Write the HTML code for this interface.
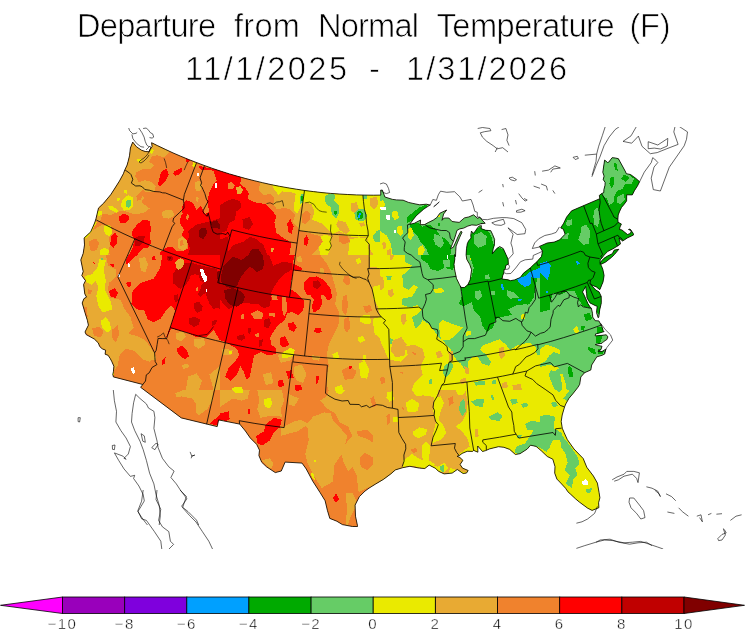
<!DOCTYPE html><html><head><meta charset="utf-8"><title>Departure from Normal Temperature (F)</title>
<style>html,body{margin:0;padding:0;background:#fff}svg{display:block}text{font-family:"Liberation Sans",sans-serif;fill:#000}</style></head><body>
<svg width="750" height="635" viewBox="0 0 750 635">
<rect width="750" height="635" fill="#fff"/>
<defs><clipPath id="frame"><rect x="0" y="127" width="750" height="422"/></clipPath><clipPath id="us"><path d="M132.7 142.1 L130.4 148.0 L129.5 155.8 L128.2 161.1 L127.1 165.1 L124.8 169.9 L123.4 173.7 L119.5 180.9 L114.4 189.0 L110.7 194.7 L103.8 203.0 L98.5 208.1 L95.9 219.0 L94.6 223.0 L90.7 231.9 L84.1 238.0 L84.5 244.9 L83.2 253.4 L80.8 259.9 L83.2 271.6 L81.8 275.6 L85.5 280.7 L83.6 284.5 L84.8 293.9 L86.5 297.1 L83.9 298.7 L82.2 303.0 L85.0 312.7 L87.4 320.4 L88.4 325.2 L85.0 332.0 L86.2 334.6 L94.4 339.1 L98.3 342.9 L99.7 346.5 L102.2 348.8 L105.6 350.2 L105.1 354.2 L108.1 355.3 L110.2 358.5 L111.7 361.3 L113.9 366.3 L113.4 371.7 L112.8 374.4 L113.4 376.9 L113.4 376.9 L142.8 384.5 L140.6 387.3 L181.3 417.9 L217.2 426.6 L218.6 419.9 L239.7 424.1 L245.4 431.0 L250.2 437.9 L256.7 444.4 L259.5 450.2 L258.9 455.5 L261.7 462.2 L266.5 466.8 L275.3 472.6 L281.3 471.0 L285.1 462.1 L294.0 462.6 L302.0 463.1 L306.2 468.9 L312.7 481.1 L320.1 492.6 L325.1 500.7 L327.4 510.4 L329.8 518.4 L336.8 521.2 L342.4 524.6 L352.4 526.5 L357.5 526.5 L357.5 525.8 L355.5 516.2 L355.1 505.1 L359.4 496.6 L365.0 491.1 L369.1 488.1 L375.3 484.2 L383.4 479.4 L390.8 473.9 L395.4 469.9 L402.6 467.7 L409.9 466.3 L419.4 468.1 L424.8 468.5 L429.2 465.1 L435.6 468.4 L438.5 471.3 L444.1 473.9 L452.2 473.1 L457.3 469.5 L463.1 473.5 L466.5 473.1 L468.2 470.5 L462.5 468.1 L460.1 464.5 L462.9 460.3 L459.9 457.5 L457.1 456.3 L459.7 455.3 L462.1 453.4 L467.2 451.3 L472.5 451.4 L473.7 450.4 L477.9 452.2 L477.7 446.0 L482.5 451.5 L485.7 450.6 L489.5 448.9 L498.5 446.7 L503.9 447.3 L509.7 449.4 L515.4 454.5 L520.0 453.7 L527.2 449.1 L530.5 445.2 L536.1 446.4 L541.2 450.7 L547.3 456.5 L552.8 459.2 L555.0 466.6 L554.7 473.1 L556.9 479.1 L560.7 483.0 L565.6 488.3 L567.9 491.8 L570.8 494.4 L575.6 498.9 L579.4 502.1 L587.7 508.2 L592.1 510.4 L598.9 507.7 L598.6 502.7 L599.9 497.8 L599.1 492.6 L597.4 483.1 L593.4 476.0 L586.8 467.3 L583.2 458.5 L578.9 454.1 L574.0 449.0 L567.3 439.6 L564.1 432.5 L562.3 428.3 L561.2 421.5 L562.2 415.0 L564.6 406.8 L565.8 403.9 L568.9 398.4 L573.3 393.2 L578.0 387.2 L579.7 384.3 L580.8 377.0 L584.6 372.7 L590.8 370.0 L591.7 365.0 L596.7 357.1 L596.7 356.9 L602.0 355.3 L604.7 354.0 L605.7 349.2 L602.0 351.5 L597.9 351.3 L600.9 349.7 L602.0 346.2 L598.8 345.7 L595.2 344.6 L597.7 343.9 L602.0 343.3 L604.1 341.2 L606.8 339.6 L607.9 336.9 L606.3 334.8 L602.0 335.3 L595.2 335.9 L595.6 333.9 L598.8 333.2 L604.1 331.6 L603.1 330.5 L602.0 326.8 L598.9 320.9 L595.2 320.7 L592.7 317.1 L592.5 313.3 L591.4 308.4 L589.9 306.7 L587.9 303.6 L584.2 295.2 L582.5 292.0 L585.7 286.4 L585.9 288.5 L586.6 293.6 L587.0 297.9 L590.0 302.9 L595.1 305.5 L597.2 306.3 L596.5 312.6 L598.2 317.8 L598.8 317.1 L599.7 309.9 L601.1 304.0 L601.3 302.7 L601.2 296.4 L599.1 291.9 L595.8 290.1 L592.8 286.8 L590.0 283.3 L591.6 285.0 L596.4 286.9 L599.8 289.7 L603.0 282.0 L604.1 275.5 L602.8 269.3 L601.4 265.8 L600.2 264.3 L600.1 259.9 L602.1 257.8 L603.9 255.3 L606.7 252.6 L607.9 251.3 L613.0 248.8 L615.2 247.4 L617.5 246.1 L620.5 243.9 L619.0 238.1 L622.6 241.0 L623.5 240.5 L627.4 237.9 L633.5 235.0 L633.2 233.3 L630.0 229.0 L628.5 229.5 L631.4 230.7 L630.4 233.4 L627.5 234.5 L624.8 232.3 L621.9 229.9 L619.5 229.5 L620.0 227.0 L621.4 224.0 L618.1 222.3 L617.9 219.3 L618.2 215.0 L619.7 211.2 L621.6 207.3 L624.0 204.5 L626.6 200.9 L626.7 194.8 L632.3 194.9 L634.4 190.7 L637.4 186.1 L639.6 181.7 L639.6 181.7 L635.9 178.4 L630.5 174.5 L626.3 173.7 L625.6 171.9 L618.4 158.7 L615.9 158.1 L612.1 157.7 L610.6 159.7 L608.8 162.1 L607.5 162.5 L604.6 160.1 L602.8 172.3 L604.1 176.1 L603.2 179.5 L605.1 182.3 L605.0 185.3 L603.9 189.5 L603.8 192.6 L601.8 193.5 L599.3 195.4 L599.8 198.7 L571.6 210.8 L566.6 217.1 L563.7 223.2 L560.7 227.9 L563.3 229.1 L565.1 234.2 L559.7 239.8 L554.2 242.1 L547.2 243.0 L539.4 246.4 L542.5 251.2 L541.5 256.5 L536.7 262.0 L533.8 264.5 L530.3 267.9 L523.6 273.1 L520.3 277.5 L514.5 279.9 L510.4 280.7 L508.0 279.8 L502.0 279.0 L502.8 275.3 L503.8 273.0 L504.1 269.7 L505.4 268.4 L505.7 265.5 L508.3 264.1 L508.1 259.3 L505.8 254.2 L503.2 248.5 L499.7 246.6 L496.7 248.6 L492.3 253.8 L493.2 248.7 L494.4 245.0 L494.6 239.4 L492.5 234.3 L490.7 230.6 L485.8 230.3 L481.1 228.6 L481.4 225.7 L479.0 226.1 L477.0 228.5 L475.0 231.7 L473.0 233.5 L471.5 231.0 L470.8 235.0 L471.0 238.1 L468.6 240.9 L467.3 243.7 L466.5 248.6 L466.1 255.0 L466.8 259.4 L469.7 264.4 L471.6 269.7 L470.2 279.7 L467.8 284.8 L464.3 287.6 L460.9 287.4 L459.4 284.4 L456.4 278.3 L454.5 268.9 L454.0 264.2 L454.8 259.2 L454.6 254.5 L455.5 256.6 L455.7 251.8 L456.1 246.1 L457.7 242.1 L459.7 237.3 L462.1 232.1 L460.9 231.3 L458.1 236.5 L455.7 242.1 L453.3 247.3 L450.5 248.6 L452.5 243.7 L454.1 239.7 L455.7 234.9 L456.9 230.5 L459.7 228.9 L463.7 228.1 L467.8 226.1 L471.8 224.9 L476.6 225.3 L479.8 224.1 L482.2 223.3 L481.5 223.7 L485.2 223.3 L482.2 220.1 L479.7 217.2 L477.6 218.4 L473.6 214.8 L468.9 216.9 L464.4 217.9 L459.2 222.4 L452.1 221.5 L448.8 218.0 L444.2 218.0 L442.0 220.3 L443.6 214.0 L446.7 210.0 L439.9 213.2 L436.8 217.6 L433.4 220.0 L428.2 222.6 L424.6 224.6 L420.2 224.7 L420.6 220.0 L414.5 223.2 L409.6 224.3 L412.9 220.0 L416.2 215.8 L423.8 209.1 L429.9 205.1 L430.2 205.1 L426.3 204.2 L419.7 204.8 L412.9 203.4 L408.5 202.4 L403.1 200.2 L396.5 199.9 L392.6 199.4 L384.9 197.0 L382.4 190.1 L380.7 190.1 L380.8 195.1 L373.5 195.2 L364.9 195.1 L356.3 194.9 L347.7 194.5 L339.1 194.0 L330.6 193.4 L322.0 192.6 L313.4 191.6 L304.9 190.5 L296.4 189.2 L287.9 187.8 L279.5 186.3 L271.0 184.6 L262.6 182.7 L254.3 180.7 L245.9 178.6 L237.7 176.3 L229.4 173.9 L221.2 171.3 L213.0 168.6 L204.9 165.7 L196.9 162.7 L188.9 159.6 L180.9 156.3 L173.0 152.9 L165.2 149.3 L157.4 145.6 L151.6 142.7 L151.6 142.7 L152.1 146.7 L149.9 149.2 L149.1 151.8 L145.2 151.5 L141.5 150.2 L136.4 146.7 L132.7 142.1Z"/><path d="M600.8 264.4 L605.6 262.1 L611.6 257.3 L614.4 254.6 L618.8 249.3 L614.2 250.1 L612.3 253.7 L607.6 256.0 L604.0 258.3 L601.9 260.6 L600.2 262.8Z"/></clipPath></defs>
<g clip-path="url(#us)" shape-rendering="crispEdges">
<rect x="50" y="110" width="700" height="470" fill="#e8aa33"/>
<svg x="60" y="120" width="160" height="135" viewBox="0 0 750 632.812" overflow="hidden"><rect width="750" height="632.812" fill="#f0822d"/>
<path d="M300 60 L520 125 L512 150 L490 175 L470 170 L455 165 L430 170 L418 195 L440 212 L420 232 L385 232 L358 245 L352 262 L370 292 L398 283 L430 290 L448 312 L442 335 L405 338 L388 328 L370 345 L395 365 L380 385 L400 400 L420 415 L400 432 L370 440 L340 440 L300 425 L270 430 L240 445 L200 440 L190 470 L150 480 L100 560 L0 560 L0 60Z" fill="#e8aa33"/>
<path d="M117 539 L156 515.6 L195 492 L234 492 L242 523 L230 555 L234 586 L227 617 L234 633 L100 633 L100 586Z" fill="#e8aa33"/>
<path d="M133 570 L168 555 L184 578 L172 609 L145 617Z" fill="#f0822d"/>
<path d="M425 180 L440 170 L455 182 L452 200 L435 205 L422 195Z" fill="#f0822d"/>
<path d="M358 355 L372 345 L385 358 L378 375 L362 378Z" fill="#f0822d"/>
<path d="M195 450 L215 445 L225 460 L210 470 L198 465Z" fill="#f0822d"/>
<path d="M475 435 L500 420 L530 425 L535 450 L510 462 L485 458Z" fill="#e8aa33"/>
<path d="M635 290 L655 285 L665 310 L660 330 L640 335 L630 315Z" fill="#e8aa33"/>
<path d="M640 360 L650 365 L648 385 L638 380Z" fill="#e8aa33"/>
<path d="M425 135 L440 140 L432 160 L420 150Z" fill="#eaea00"/>
<path d="M362 185 L385 180 L380 195 L365 200Z" fill="#eaea00"/>
<path d="M625 198 L640 203 L632 225 L620 215Z" fill="#eaea00"/>
<path d="M295 370 L320 352 L340 362 L345 400 L330 420 L300 425 L285 400Z" fill="#eaea00"/>
<path d="M308 385 L322 372 L335 380 L335 400 L322 412 L308 405Z" fill="#66cc66"/>
<path d="M300 330 L315 325 L312 345 L300 342Z" fill="#eaea00"/>
<path d="M270 365 L280 368 L278 380 L268 378Z" fill="#eaea00"/>
<path d="M225 405 L240 400 L275 425 L265 435 L235 420Z" fill="#eaea00"/>
<path d="M175 425 L200 430 L195 445 L178 450 L170 440Z" fill="#eaea00"/>
<path d="M160 475 L172 480 L150 520 L130 550 L110 560 L110 540 L140 500Z" fill="#eaea00"/>
<path d="M205 500 L225 490 L240 500 L245 530 L230 545 L210 535Z" fill="#eaea00"/>
<path d="M185 610 L210 598 L230 610 L225 633 L190 633Z" fill="#eaea00"/>
<path d="M478 238 L500 228 L510 255 L495 285 L470 310 L458 305 L465 280 L470 255Z" fill="#ff0000"/>
<path d="M535 240 L570 225 L575 235 L560 255 L540 262 L530 252Z" fill="#ff0000"/>
<path d="M592 180 L610 188 L600 200 L588 192Z" fill="#ff0000"/>
<path d="M275 455 L295 440 L320 445 L325 465 L305 485 L280 480Z" fill="#ff0000"/>
<path d="M240 545 L258 528 L270 545 L265 580 L250 600 L235 585Z" fill="#ff0000"/>
<path d="M590 375 L620 385 L640 420 L660 400 L680 440 L700 430 L690 380 L700 340 L720 300 L735 285 L750 290 L750 633 L468.8 633 L468.8 621 L500 597.6 L523.4 593.7 L546.9 613.3 L578.1 613.3 L601.6 601.6 L597.7 570.3 L570.3 539 L582 515.6 L562.5 484.4 L566.4 445.3 L575 440 L570 410Z" fill="#ff0000"/>
<path d="M339.9 519.5 L363.3 488.3 L390.6 467.2 L420.3 472.6 L426.6 507.8 L421.9 546.9 L426.6 578.1 L411 598.4 L390.6 601.6 L371.1 621.1 L363.3 632.8 L324.2 632.8 L339.9 601.6 L350 562.5 L338.3 539Z" fill="#ff0000"/>
<path d="M652 215 L680 222 L750 235 L750 295 L735 285 L720 240 L700 232 L670 235 L655 230Z" fill="#ff0000"/>
<path d="M550.8 562.5 L570.3 546.9 L593.8 562.5 L597.7 593.7 L578.1 613.3 L554.7 601.6Z" fill="#e8aa33"/>
<path d="M595 440 L605 450 L600 470 L590 462Z" fill="#f0822d"/>
<path d="M560 570 L575 560 L580 585 L565 590Z" fill="#f0822d"/>
<path d="M700 535 L720 540 L715 560 L700 555Z" fill="#f0822d"/>
<path d="M600 520 L640 490 L680 480 L720 470 L750 460 L750 633 L600 633 L610 600 L595 570 L605 545Z" fill="#c00000"/>
<path d="M351.6 554.7 L371.1 543 L398.4 545.3 L390.6 574.2 L371.1 593.7 L353.1 589.8Z" fill="#c00000"/>
<path d="M655 510 L685 505 L690 530 L670 560 L650 545Z" fill="#800000"/>
<path d="M705 480 L735 470 L750 490 L750 510 L715 505Z" fill="#800000"/>
<path d="M725 297 L735 295 L738 318 L728 320Z" fill="#ffffff"/>
<path d="M640 250 L652 248 L654 262 L643 264Z" fill="#ffffff"/>
</svg>
<svg x="220" y="120" width="160" height="135" viewBox="0 0 750 632.812" overflow="hidden"><rect width="750" height="632.812" fill="#e8aa33"/>
<path d="M240 290 L245 310 L258 330 L275 352 L292 335 L330 338 L355 345 L350 380 L345 420 L362 440 L380 400 L395 385 L430 395 L442 430 L432 468 L470 482 L500 505 L530 535 L560 520 L600 545 L640 548 L690 548 L700 600 L720 633 L750 633 L750 290Z" fill="#eaea00"/>
<path d="M468 548 L498 535 L522 550 L520 600 L505 633 L470 633 L462 590Z" fill="#eaea00"/>
<path d="M610 560 L650 550 L690 555 L700 633 L600 633 L605 590Z" fill="#eaea00"/>
<path d="M0 230 L190 295 L180 330 L205 355 L235 345 L255 365 L250 395 L268 420 L300 410 L330 420 L352 445 L342 480 L362 500 L375 520 L420 530 L470 545 L482 570 L460 600 L430 633 L0 633Z" fill="#f0822d"/>
<path d="M385 440 L405 425 L425 440 L420 470 L400 490 L385 480Z" fill="#f0822d"/>
<path d="M560 545 L600 545 L610 570 L580 585 L560 570Z" fill="#f0822d"/>
<path d="M705 365 L735 360 L742 395 L725 420 L705 405Z" fill="#e8aa33"/>
<path d="M615 390 L640 385 L650 415 L635 440 L615 425Z" fill="#e8aa33"/>
<path d="M650 482 L675 480 L680 495 L660 502Z" fill="#e8aa33"/>
<path d="M555 470 L590 480 L610 520 L590 535 L560 515 L545 490Z" fill="#e8aa33"/>
<path d="M440 475 L480 485 L500 510 L520 535 L480 540 L440 525 L420 500Z" fill="#e8aa33"/>
<path d="M530 560 L600 590 L600 633 L525 633Z" fill="#e8aa33"/>
<path d="M0 230 L100 268 L95 300 L120 320 L135 345 L130 370 L160 385 L215 395 L240 420 L265 450 L255 480 L265 530 L300 555 L335 575 L325 633 L0 633Z" fill="#ff0000"/>
<path d="M35 300 L55 290 L70 305 L60 325 L40 325Z" fill="#f0822d"/>
<path d="M75 315 L95 310 L108 325 L100 345 L80 345Z" fill="#e8aa33"/>
<path d="M240 600 L252 598 L250 620 L238 618Z" fill="#e8aa33"/>
<path d="M315 485 L330 465 L345 500 L335 535 L320 525Z" fill="#ff0000"/>
<path d="M392 560 L405 540 L415 560 L408 590 L395 585Z" fill="#ff0000"/>
<path d="M0 400 L30 380 L60 370 L95 380 L100 410 L75 430 L70 470 L45 480 L30 520 L0 530Z" fill="#c00000"/>
<path d="M105 465 L140 455 L155 490 L135 515 L110 505Z" fill="#c00000"/>
<path d="M39 617 L62.5 586 L109.4 570.3 L140.6 546.9 L171.9 558.6 L203.1 586 L218.8 625 L218.8 633 L31 633Z" fill="#c00000"/>
<path d="M0 560 L40 545 L35 633 L0 633Z" fill="#c00000"/>
<path d="M132.7 633 L148.6 605.6 L179.5 603.3 L199.2 633Z" fill="#800000"/>
<path d="M495 355 L515 345 L540 350 L535 380 L560 400 L560 430 L545 460 L525 445 L520 410 L500 395 L490 375Z" fill="#66cc66"/>
<path d="M535 425 L550 430 L545 445 L535 440Z" fill="#00aa00"/>
<path d="M630 435 L650 415 L675 420 L690 445 L680 470 L650 475 L632 460Z" fill="#66cc66"/>
<path d="M640 435 L655 425 L670 435 L668 460 L648 468Z" fill="#00aa00"/>
<path d="M650 438 L660 436 L656 462 L648 458Z" fill="#00a0ff"/>
<path d="M378 345 L392 345 L390 388 L376 392Z" fill="#66cc66"/>
<path d="M381 355 L389 355 L388 380 L380 382Z" fill="#00aa00"/>
<path d="M715 545 L735 520 L750 515 L750 570 L725 570Z" fill="#66cc66"/>
<path d="M670 350 L690 352 L688 372 L672 370Z" fill="#66cc66"/>
</svg>
<svg x="380" y="120" width="160" height="135" viewBox="0 0 750 632.812" overflow="hidden"><rect width="750" height="632.812" fill="#66cc66"/>
<path d="M128 455 L165 425 L185 410 L228 393 L208 420 L175 445 L150 472 L128 482Z" fill="#00aa00"/>
<path d="M138 490 L175 480 L200 500 L230 490 L260 510 L280 540 L310 560 L335 590 L330 633 L230 633 L215 600 L190 570 L175 540 L150 520Z" fill="#00aa00"/>
<path d="M255 535 L290 545 L300 580 L285 600 L260 585 L250 560Z" fill="#66cc66"/>
<path d="M410 560 L440 520 L470 500 L500 510 L520 540 L530 580 L560 600 L590 610 L600 633 L400 633Z" fill="#00aa00"/>
<path d="M440 540 L475 525 L500 545 L495 585 L460 600 L440 580Z" fill="#66cc66"/>
<path d="M270 485 L282 485 L282 497 L270 497Z" fill="#00aa00"/>
<path d="M0 380 L15 375 L25 400 L10 420 L0 420Z" fill="#eaea00"/>
<path d="M55 430 L80 425 L90 460 L70 470 L55 450Z" fill="#eaea00"/>
<path d="M80 500 L100 495 L110 530 L95 545 L80 530Z" fill="#eaea00"/>
<path d="M130 510 L150 505 L158 540 L145 565 L132 550Z" fill="#eaea00"/>
<path d="M0 520 L30 540 L50 580 L60 633 L0 633Z" fill="#eaea00"/>
<path d="M180 600 L200 585 L210 610 L200 633 L180 633Z" fill="#eaea00"/>
<path d="M270 447 L280 447 L280 457 L270 457Z" fill="#eaea00"/>
<path d="M10 575 L25 570 L30 600 L15 605Z" fill="#e8aa33"/>
<path d="M35 610 L50 605 L50 633 L35 633Z" fill="#e8aa33"/>
<path d="M0 410 L15 405 L28 410 L26 424 L5 424Z" fill="#ffffff"/>
<path d="M28 448 L45 445 L47 468 L32 471Z" fill="#ffffff"/>
<path d="M66 516 L75 516 L76 530 L67 530Z" fill="#ffffff"/>
</svg>
<svg x="540" y="120" width="160" height="135" viewBox="0 0 750 632.812" overflow="hidden"><rect width="750" height="632.812" fill="#00aa00"/>
<path d="M295 185 L350 172 L380 200 L410 250 L440 275 L430 300 L400 300 L385 325 L365 330 L350 350 L345 385 L325 400 L315 370 L292 352 L298 260Z" fill="#66cc66"/>
<path d="M362 360 L392 345 L398 372 L375 395 L360 385Z" fill="#66cc66"/>
<path d="M345 200 L358 205 L365 240 L352 232Z" fill="#00aa00"/>
<path d="M395 255 L420 270 L400 290 L380 275Z" fill="#00aa00"/>
<path d="M330 270 L345 268 L348 300 L335 320 L325 300Z" fill="#00aa00"/>
<path d="M255 420 L270 410 L282 460 L270 500 L255 490 L250 450Z" fill="#66cc66"/>
<path d="M128 470 L150 465 L150 490 L130 500 L120 490Z" fill="#66cc66"/>
<path d="M195 500 L215 490 L235 520 L230 580 L205 585 L180 560 L190 530Z" fill="#66cc66"/>
<path d="M105 540 L135 530 L130 560 L105 560Z" fill="#66cc66"/>
</svg>
<svg x="60" y="255" width="160" height="135" viewBox="0 0 750 632.812" overflow="hidden"><rect width="750" height="632.812" fill="#f0822d"/>
<path d="M95 0 L215 0 L225 50 L265 70 L260 105 L230 130 L225 160 L235 200 L285 210 L300 250 L330 290 L345 340 L320 370 L360 380 L400 400 L430 440 L442 480 L420 500 L390 490 L350 450 L310 440 L280 470 L270 520 L250 545 L230 500 L200 440 L165 400 L130 370 L60 330 L60 0Z" fill="#e8aa33"/>
<path d="M150 345 L185 335 L205 360 L190 385 L160 380Z" fill="#f0822d"/>
<path d="M245 350 L270 330 L278 370 L262 410 L245 390Z" fill="#f0822d"/>
<path d="M130 160 L150 165 L145 185 L130 180Z" fill="#f0822d"/>
<path d="M110 240 L125 245 L130 290 L115 285Z" fill="#f0822d"/>
<path d="M185 20 L215 25 L205 70 L215 120 L210 160 L225 190 L240 225 L245 255 L200 270 L180 240 L170 190 L180 150 L165 120 L150 140 L125 130 L115 100 L150 90 L175 60Z" fill="#eaea00"/>
<path d="M190 310 L215 290 L235 320 L240 350 L220 365 L200 345Z" fill="#eaea00"/>
<path d="M245 545 L255 550 L255 565 L245 560Z" fill="#eaea00"/>
<path d="M193 16 L201 16 L201 24 L193 24Z" fill="#66cc66"/>
<path d="M370 15 L400 10 L412 45 L400 80 L380 75Z" fill="#e8aa33"/>
<path d="M545 365 L580 360 L590 385 L570 405 L545 395Z" fill="#e8aa33"/>
<path d="M630 395 L675 390 L680 420 L650 440 L628 425Z" fill="#e8aa33"/>
<path d="M570 515 L600 510 L605 525 L580 535Z" fill="#e8aa33"/>
<path d="M600 570 L640 555 L665 590 L650 633 L590 633Z" fill="#e8aa33"/>
<path d="M700 560 L750 520 L750 633 L720 633Z" fill="#e8aa33"/>
<path d="M410 460 L445 455 L450 490 L420 495Z" fill="#e8aa33"/>
<path d="M480 0 L750 0 L750 400 L720 350 L690 382 L640 385 L600 365 L520 345 L505 380 L498 385 L520 330 L540 260 L520 235 L490 270 L470 300 L440 315 L410 300 L395 260 L360 255 L335 230 L340 170 L380 130 L440 110 L470 60Z" fill="#ff0000"/>
<path d="M230 170 L255 155 L272 175 L262 200 L238 198Z" fill="#ff0000"/>
<path d="M310 130 L330 125 L335 145 L318 150Z" fill="#ff0000"/>
<path d="M232 40 L255 45 L250 60Z" fill="#ff0000"/>
<path d="M155 33 L168 38 L160 45Z" fill="#ff0000"/>
<path d="M430 8 L445 5 L448 22 L432 25Z" fill="#ff0000"/>
<path d="M545 440 L570 425 L595 445 L605 475 L585 490 L555 465Z" fill="#ff0000"/>
<path d="M478 495 L495 480 L490 510 L478 518Z" fill="#ff0000"/>
<path d="M363.3 0 L351.6 7.8 L328.1 31.3 L312.5 46.9 L308.6 23.4 L320.3 0Z" fill="#ff0000"/>
<path d="M528.4 89.5 L550.3 58.2 L575.4 39.3 L613.1 36.2 L657 48.8 L732.3 64.4 L744.8 89.5 L738.6 127.2 L750 130 L750 177 L732.3 164.8 L719.7 139.7 L750 177.4 L750 252.7 L738.6 246.4 L719.7 252.7 L700.9 227.6 L688.4 196.2 L682.1 177.4 L657 196.2 L644.4 183.7 L657 164.8 L663.3 139.7 L675.8 127.2 L657 120.9 L650.7 95.8 L631.9 89.5 L613.1 95.8 L603.7 120.9 L588 139.7 L562.9 158.6 L531.5 133.5Z" fill="#c00000"/>
<path d="M719.7 139.7 L738.6 127.2 L750 130 L750 252.7 L738.6 246.4 L719.7 252.7 L700.9 227.6 L688.4 196.2 L682.1 177.4 L700 150Z" fill="#c00000"/>
<path d="M625.6 227.6 L650.7 218.2 L669.5 240.1 L663.3 262.1 L644.4 271.5 L628.8 252.7Z" fill="#c00000"/>
<path d="M603.7 296.6 L631.9 290.3 L657 302.9 L650.7 328 L625.6 337.4 L606.8 321.7Z" fill="#c00000"/>
<path d="M710.3 309.2 L738.6 302.9 L729.2 324.9 L713.5 331.1Z" fill="#c00000"/>
<path d="M534.6 190 L553.5 183.7 L556.6 215 L537.8 221.3Z" fill="#c00000"/>
<path d="M500 8 L522 1.7 L531.5 17.4 L519 30 L503.3 23.7Z" fill="#c00000"/>
<path d="M735 80 L750 75 L750 140 L740 130Z" fill="#800000"/>
<path d="M508 10 L520 8 L522 20 L510 22Z" fill="#800000"/>
<path d="M540.9 33 L562.9 14.2 L581.7 23.7 L578.6 51.9 L556.6 70.7 L542.8 58.2Z" fill="#e8aa33"/>
<path d="M637 155.4 L644.4 149.2 L647.6 168 L638.2 171.1Z" fill="#f0822d"/>
<path d="M657 67.6 L669.5 64.4 L679 86.4 L688.4 102.1 L691.5 120.9 L679 127.2 L669.5 111.5 L660.1 89.5Z" fill="#ffffff"/>
<path d="M685.2 161.7 L691.5 158.6 L689.6 172.4 L684 171.1Z" fill="#ffffff"/>
<path d="M333 530 L345 527 L352 550 L345 560 L336 548Z" fill="#ffffff"/>
<path d="M272 90 L280 90 L281 105 L273 104Z" fill="#ffffff"/>
<path d="M318 38 L325 37 L327 55 L320 56Z" fill="#ffffff"/>
</svg>
<svg x="220" y="255" width="160" height="135" viewBox="0 0 750 632.812" overflow="hidden"><rect width="750" height="632.812" fill="#e8aa33"/>
<path d="M0 0 L470 0 L500 40 L520 80 L535 130 L548 180 L540 230 L560 270 L555 330 L530 380 L510 420 L500 470 L510 520 L500 570 L505 633 L0 633Z" fill="#f0822d"/>
<path d="M580 100 L605 95 L612 130 L595 145 L578 125Z" fill="#f0822d"/>
<path d="M575 195 L595 185 L600 240 L590 285 L572 260Z" fill="#f0822d"/>
<path d="M670 240 L705 235 L712 262 L685 272Z" fill="#f0822d"/>
<path d="M580 300 L605 290 L610 340 L595 365 L580 340Z" fill="#f0822d"/>
<path d="M570 540 L610 520 L640 545 L625 580 L585 585Z" fill="#f0822d"/>
<path d="M360 10 L380 5 L385 30 L365 35Z" fill="#e8aa33"/>
<path d="M470 60 L490 65 L485 90 L468 85Z" fill="#e8aa33"/>
<path d="M350 520 L385 515 L405 560 L390 600 L360 590 L345 555Z" fill="#e8aa33"/>
<path d="M200 560 L240 550 L250 600 L215 610Z" fill="#e8aa33"/>
<path d="M270 470 L300 455 L345 470 L330 495 L285 505Z" fill="#e8aa33"/>
<path d="M10 440 L60 445 L50 470 L10 470Z" fill="#e8aa33"/>
<path d="M430 470 L470 475 L465 495 L435 492Z" fill="#e8aa33"/>
<path d="M700 0 L750 0 L750 60 L705 55Z" fill="#eaea00"/>
<path d="M715 150 L750 140 L750 280 L735 230 L715 200Z" fill="#eaea00"/>
<path d="M660 285 L700 280 L710 320 L680 325 L655 310Z" fill="#eaea00"/>
<path d="M715 300 L750 290 L750 390 L725 370Z" fill="#eaea00"/>
<path d="M645 385 L670 380 L680 400 L660 412 L645 400Z" fill="#eaea00"/>
<path d="M635 20 L655 15 L662 35 L645 42Z" fill="#eaea00"/>
<path d="M525 465 L550 455 L560 480 L535 490Z" fill="#eaea00"/>
<path d="M650 510 L680 495 L700 540 L690 580 L660 575Z" fill="#eaea00"/>
<path d="M540 620 L570 610 L580 633 L540 633Z" fill="#eaea00"/>
<path d="M670 470 L685 470 L680 500 L668 495Z" fill="#eaea00"/>
<path d="M290 460 L330 435 L350 445 L345 470 L310 485 L290 480Z" fill="#eaea00"/>
<path d="M40 450 L58 452 L55 465 L40 463Z" fill="#eaea00"/>
<path d="M55 622 L100 618 L110 633 L55 633Z" fill="#eaea00"/>
<path d="M0 0 L350 0 L340 40 L385 60 L380 75 L345 72 L335 120 L330 160 L358 178 L395 215 L390 260 L365 282 L335 265 L315 275 L300 310 L270 330 L250 360 L235 390 L240 420 L265 440 L260 465 L225 470 L190 455 L160 470 L150 520 L140 570 L125 585 L110 545 L95 520 L80 560 L50 590 L25 570 L40 530 L70 500 L90 470 L80 440 L30 410 L0 400Z" fill="#ff0000"/>
<path d="M395 130 L420 105 L455 100 L490 120 L520 160 L525 200 L505 215 L490 190 L470 185 L480 225 L465 255 L440 270 L430 240 L440 210 L425 190 L405 185 L395 160Z" fill="#ff0000"/>
<path d="M435 125 L460 118 L475 140 L455 160 L435 150Z" fill="#c00000"/>
<path d="M145 275 L175 258 L205 275 L195 300 L160 300Z" fill="#f0822d"/>
<path d="M240 190 L265 188 L270 210 L245 212Z" fill="#f0822d"/>
<path d="M165 370 L185 365 L185 385 L168 385Z" fill="#f0822d"/>
<path d="M100 280 L115 275 L112 300 L100 298Z" fill="#f0822d"/>
<path d="M230 270 L260 275 L255 290 L232 285Z" fill="#f0822d"/>
<path d="M290 200 L310 195 L315 260 L300 290 L290 250Z" fill="#f0822d"/>
<path d="M320 320 L345 315 L360 340 L345 360 L322 350Z" fill="#ff0000"/>
<path d="M445 345 L470 340 L478 360 L455 368 L442 358Z" fill="#ff0000"/>
<path d="M280 390 L305 380 L325 420 L300 435 L282 420Z" fill="#ff0000"/>
<path d="M310 545 L335 540 L345 575 L320 580Z" fill="#ff0000"/>
<path d="M270 590 L295 585 L300 615 L275 620Z" fill="#ff0000"/>
<path d="M350 612 L380 610 L385 633 L350 633Z" fill="#ff0000"/>
<path d="M450 570 L465 565 L460 600 L448 605Z" fill="#ff0000"/>
<path d="M605 522 L618 520 L615 535 L605 533Z" fill="#ff0000"/>
<path d="M0 0 L230 0 L250 50 L300 30 L340 40 L335 70 L300 90 L265 130 L240 175 L235 240 L205 250 L180 230 L110 225 L70 240 L40 255 L0 210Z" fill="#c00000"/>
<path d="M3.75 101.7 L15.5 54.8 L43.1 23.4 L62.3 8 L101.7 23.4 L132.7 0 L199.2 0 L207.2 38.9 L199.2 66.6 L172 82 L156.1 62.3 L136.9 54.8 L117.2 78.3 L93.8 109.2 L82 140.6 L62.3 160.3 L31.4 148.6 L8 132.7Z" fill="#800000"/>
<path d="M19.7 164 L62.3 156.1 L101.7 172 L117.2 195.5 L105.5 226.4 L78.3 242.3 L46.9 234.4 L23.4 203Z" fill="#800000"/>
<path d="M205 305 L230 295 L238 320 L225 345 L205 335Z" fill="#c00000"/>
<path d="M80 380 L110 372 L120 390 L100 402 L80 395Z" fill="#c00000"/>
<path d="M185 400 L200 395 L198 425 L185 430Z" fill="#c00000"/>
<path d="M130 345 L145 340 L142 370 L130 365Z" fill="#c00000"/>
</svg>
<svg x="380" y="255" width="160" height="135" viewBox="0 0 750 632.812" overflow="hidden"><rect width="750" height="632.812" fill="#eaea00"/>
<path d="M115 0 L750 0 L750 470 L735 470 L730 430 L700 410 L640 425 L610 445 L590 420 L560 395 L520 410 L480 425 L470 445 L500 470 L520 500 L510 520 L480 510 L455 475 L430 480 L410 500 L415 530 L395 535 L380 510 L360 495 L345 470 L330 440 L310 420 L295 400 L320 400 L345 385 L365 365 L388 340 L330 320 L295 305 L275 320 L280 360 L285 395 L270 380 L250 350 L230 325 L200 305 L185 330 L165 345 L150 290 L180 275 L195 255 L175 235 L140 245 L105 235 L105 205 L150 195 L178 150 L160 140 L135 165 L108 150 L105 95 L125 80 L150 50 L120 35Z" fill="#66cc66"/>
<path d="M250 160 L290 155 L305 170 L280 180 L255 175Z" fill="#eaea00"/>
<path d="M400 360 L425 355 L430 372 L405 380Z" fill="#eaea00"/>
<path d="M660 280 L680 275 L678 300 L662 302Z" fill="#eaea00"/>
<path d="M420 10 L440 5 L440 25 L425 25Z" fill="#eaea00"/>
<path d="M30 100 L55 100 L50 118 L32 118Z" fill="#66cc66"/>
<path d="M45 390 L60 395 L55 420 L45 415Z" fill="#66cc66"/>
<path d="M230 585 L245 580 L245 605 L232 605Z" fill="#66cc66"/>
<path d="M300 520 L330 500 L345 520 L325 560 L305 575 L295 550Z" fill="#66cc66"/>
<path d="M440 595 L490 590 L490 610 L450 612Z" fill="#66cc66"/>
<path d="M525 590 L545 585 L545 605 L528 605Z" fill="#66cc66"/>
<path d="M190 0 L350 0 L360 30 L340 70 L300 60 L270 75 L235 65 L225 40 L195 20Z" fill="#00aa00"/>
<path d="M295 25 L325 20 L330 55 L300 60Z" fill="#66cc66"/>
<path d="M380 150 L400 130 L430 100 L440 60 L420 0 L750 0 L750 60 L735 120 L720 200 L700 230 L650 245 L620 280 L575 290 L540 300 L530 340 L500 360 L480 330 L470 290 L440 260 L430 220 L390 240 L370 230 L385 190Z" fill="#00aa00"/>
<path d="M445 170 L470 165 L480 195 L460 215 L445 200Z" fill="#66cc66"/>
<path d="M595 165 L625 175 L650 200 L610 205 L595 190Z" fill="#66cc66"/>
<path d="M600 255 L640 235 L690 230 L660 270 L620 280Z" fill="#66cc66"/>
<path d="M520 170 L540 170 L540 185 L522 188Z" fill="#66cc66"/>
<path d="M490 95 L510 90 L515 110 L495 115Z" fill="#66cc66"/>
<path d="M640 110 L680 100 L700 80 L750 60 L750 110 L710 105 L705 140 L680 150 L655 135Z" fill="#00a0ff"/>
<path d="M568 135 L578 135 L580 165 L570 160Z" fill="#00a0ff"/>
<path d="M645 208 L665 205 L665 213 L645 216Z" fill="#00a0ff"/>
<path d="M0 400 L40 490 L100 500 L130 470 L120 430 L160 420 L200 440 L210 480 L190 520 L200 560 L160 600 L150 633 L0 633Z" fill="#e8aa33"/>
<path d="M60 400 L100 385 L125 420 L115 470 L75 480 L50 450Z" fill="#e8aa33"/>
<path d="M260 455 L285 450 L295 475 L270 485Z" fill="#e8aa33"/>
<path d="M100 280 L120 275 L125 310 L108 330 L98 310Z" fill="#e8aa33"/>
<path d="M40 165 L60 160 L65 185 L50 200 L38 185Z" fill="#e8aa33"/>
<path d="M0 100 L15 105 L20 150 L5 165 L0 160Z" fill="#e8aa33"/>
<path d="M45 0 L65 0 L62 20 L48 22Z" fill="#e8aa33"/>
<path d="M560 435 L580 430 L585 470 L570 490 L558 470Z" fill="#e8aa33"/>
<path d="M320 455 L340 450 L342 495 L325 498Z" fill="#e8aa33"/>
<path d="M395 520 L415 530 L415 560 L400 555Z" fill="#e8aa33"/>
<path d="M375 585 L400 575 L410 600 L380 605Z" fill="#e8aa33"/>
<path d="M570 600 L595 595 L600 620 L575 625Z" fill="#e8aa33"/>
<path d="M620 610 L660 605 L665 633 L625 633Z" fill="#e8aa33"/>
<path d="M0 575 L20 570 L25 600 L5 605Z" fill="#f0822d"/>
<path d="M150 455 L170 460 L165 475Z" fill="#f0822d"/>
<path d="M95 550 L110 548 L108 560Z" fill="#f0822d"/>
<path d="M313 0 L320 0 L319 18 L314 16Z" fill="#ffffff"/>
</svg>
<svg x="540" y="255" width="160" height="135" viewBox="0 0 750 632.812" overflow="hidden"><rect width="750" height="632.812" fill="#66cc66"/>
<path d="M0 0 L350 0 L300 130 L292 290 L240 250 L200 240 L180 205 L162 168 L130 168 L100 185 L60 180 L50 215 L45 258 L0 268Z" fill="#00aa00"/>
<path d="M0 40 L30 30 L50 50 L45 90 L35 120 L15 95 L0 85Z" fill="#00a0ff"/>
<path d="M170 25 L190 40 L172 48Z" fill="#00a0ff"/>
<path d="M28 170 L38 170 L38 180 L28 180Z" fill="#00a0ff"/>
<path d="M205 280 L230 270 L245 300 L215 310Z" fill="#00aa00"/>
<path d="M195 330 L212 335 L205 355 L192 350Z" fill="#00aa00"/>
<path d="M265 340 L290 335 L300 360 L280 420 L260 410 L265 380Z" fill="#00aa00"/>
<path d="M225 430 L255 440 L265 465 L240 460 L228 448Z" fill="#00aa00"/>
<path d="M135 520 L150 530 L155 570 L140 575 L130 545Z" fill="#00aa00"/>
<path d="M270 440 L300 445 L295 465 L272 462Z" fill="#00aa00"/>
<path d="M155 350 L172 330 L185 360 L165 368Z" fill="#eaea00"/>
<path d="M0 440 L30 420 L60 430 L95 445 L95 465 L65 455 L45 470 L25 500 L0 510Z" fill="#eaea00"/>
<path d="M0 525 L40 515 L70 520 L90 530 L70 545 L50 540 L40 560 L55 600 L70 633 L0 633Z" fill="#eaea00"/>
<path d="M95 560 L105 555 L120 600 L125 633 L105 633 L100 590Z" fill="#eaea00"/>
</svg>
<svg x="60" y="390" width="160" height="135" viewBox="0 0 750 632.812" overflow="hidden"><rect width="750" height="632.812" fill="#f0822d"/>
<path d="M540 15 L580 0 L720 0 L715 50 L690 90 L650 120 L635 105 L640 70 L620 40 L570 30 L545 35Z" fill="#e8aa33"/>
<path d="M700 160 L750 115 L750 165Z" fill="#ff0000"/>
</svg>
<svg x="220" y="390" width="160" height="145" viewBox="0 0 750 679.688" overflow="hidden"><rect width="750" height="679.688" fill="#f0822d"/>
<path d="M175 0 L290 0 L300 50 L285 90 L290 125 L240 120 L190 130 L175 90 L185 50Z" fill="#e8aa33"/>
<path d="M0 0 L140 0 L130 40 L100 50 L60 40 L30 60 L0 80Z" fill="#e8aa33"/>
<path d="M325 20 L370 40 L350 75 L325 70Z" fill="#e8aa33"/>
<path d="M285 180 L340 150 L380 140 L415 160 L435 125 L490 105 L520 110 L540 180 L530 260 L490 285 L440 265 L420 240 L430 200 L400 170 L360 195 L320 205 L285 215Z" fill="#e8aa33"/>
<path d="M472 205 L482 200 L488 225 L476 230Z" fill="#f0822d"/>
<path d="M408.3 157.2 L446.1 119.4 L514.1 127 L559.5 172.4 L597.3 217.7 L574.6 293.3 L535 353.8 L530 429.4 L476.3 459.6 L438.5 399.2 L410 340 L400 300 L415.8 232.8Z" fill="#e8aa33"/>
<path d="M470 50 L500 30 L510 0 L750 0 L750 440 L700 455 L650 480 L640 400 L620 360 L600 380 L580 340 L565 290 L590 250 L620 215 L600 170 L560 150 L540 110 L500 85Z" fill="#e8aa33"/>
<path d="M655 320 L680 295 L715 315 L715 350 L690 375 L660 360Z" fill="#f0822d"/>
<path d="M640 195 L690 185 L720 215 L715 245 L690 230 L650 215Z" fill="#f0822d"/>
<path d="M705 40 L720 30 L735 75 L715 80Z" fill="#f0822d"/>
<path d="M195 330 L235 320 L250 345 L240 370 L215 350Z" fill="#e8aa33"/>
<path d="M590 485 L620 480 L640 520 L630 560 L610 600 L600 633 L590 633 L595 560Z" fill="#e8aa33"/>
<path d="M205 45 L235 35 L245 60 L235 85 L210 80Z" fill="#eaea00"/>
<path d="M540 0 L590 0 L570 20 L545 15Z" fill="#eaea00"/>
<path d="M425 385 L440 395 L445 425 L430 410Z" fill="#eaea00"/>
<path d="M440 328 L452 328 L452 338 L440 338Z" fill="#eaea00"/>
<path d="M60 0 L110 0 L105 15 L70 12Z" fill="#eaea00"/>
<path d="M0 110 L40 100 L45 135 L30 145 L0 140Z" fill="#ff0000"/>
<path d="M170 215 L205 195 L215 160 L255 130 L290 140 L280 175 L250 200 L235 235 L200 260 L175 250Z" fill="#ff0000"/>
<path d="M130 90 L142 88 L138 115 L130 112Z" fill="#ff0000"/>
<path d="M530 505 L545 485 L560 515 L540 528Z" fill="#ff0000"/>
<path d="M355 0 L375 0 L365 8Z" fill="#ff0000"/>
</svg>
<svg x="380" y="390" width="160" height="135" viewBox="0 0 750 632.812" overflow="hidden"><rect width="750" height="632.812" fill="#eaea00"/>
<path d="M0 0 L400 0 L412 60 L405 110 L385 150 L355 170 L385 195 L412 230 L420 265 L385 290 L370 300 L410 375 L405 388 L360 375 L330 365 L320 390 L0 440Z" fill="#e8aa33"/>
<path d="M35 10 L60 5 L65 45 L45 55 L30 35Z" fill="#eaea00"/>
<path d="M120 60 L150 40 L185 65 L175 100 L130 105Z" fill="#eaea00"/>
<path d="M150 0 L275 0 L262 40 L240 30 L200 25 L170 30Z" fill="#eaea00"/>
<path d="M155 195 L185 175 L220 185 L215 210 L180 225 L158 215Z" fill="#eaea00"/>
<path d="M195 260 L215 240 L235 260 L230 330 L260 350 L240 365 L205 340 L195 300Z" fill="#eaea00"/>
<path d="M255 40 L285 30 L300 60 L285 100 L275 140 L300 170 L310 200 L290 230 L245 250 L250 200 L262 150 L250 100Z" fill="#eaea00"/>
<path d="M110 330 L150 300 L180 320 L230 345 L270 360 L300 340 L320 365 L300 385 L260 380 L200 365 L150 355 L110 360Z" fill="#eaea00"/>
<path d="M60 125 L85 128 L85 150 L62 150Z" fill="#eaea00"/>
<path d="M355 0 L400 0 L395 20 L365 25Z" fill="#eaea00"/>
<path d="M30 120 L45 110 L48 150 L35 165Z" fill="#f0822d"/>
<path d="M320 40 L340 30 L345 60 L325 75Z" fill="#f0822d"/>
<path d="M145 280 L170 270 L175 290 L155 295Z" fill="#f0822d"/>
<path d="M100 80 L115 85 L108 95Z" fill="#f0822d"/>
<path d="M445 185 L460 180 L462 215 L448 225Z" fill="#e8aa33"/>
<path d="M375 60 L395 40 L402 100 L385 125 L370 95Z" fill="#66cc66"/>
<path d="M425 55 L460 40 L490 45 L480 80 L450 75Z" fill="#66cc66"/>
<path d="M510 125 L550 105 L575 120 L560 145 L520 140Z" fill="#66cc66"/>
<path d="M610 45 L640 40 L645 60 L620 70Z" fill="#66cc66"/>
<path d="M660 65 L690 60 L695 75 L670 85Z" fill="#66cc66"/>
<path d="M520 25 L530 20 L535 45 L525 45Z" fill="#66cc66"/>
<path d="M280 360 L300 350 L300 385 L285 380Z" fill="#66cc66"/>
<path d="M680 160 L710 145 L750 150 L750 270 L720 265 L690 290 L650 305 L630 290 L640 265 L680 250 L700 220 L720 190 L690 185Z" fill="#66cc66"/>
<path d="M640 215 L665 210 L660 225 L645 228Z" fill="#66cc66"/>
</svg>
<svg x="540" y="390" width="160" height="135" viewBox="0 0 750 632.812" overflow="hidden"><rect width="750" height="632.812" fill="#eaea00"/>
<path d="M0 125 L30 115 L70 125 L65 180 L100 200 L105 215 L140 260 L175 310 L185 345 L165 365 L175 400 L155 420 L150 460 L120 440 L140 400 L115 375 L130 340 L120 300 L100 270 L95 235 L60 235 L45 270 L30 290 L0 270Z" fill="#66cc66"/>
<path d="M50 60 L75 55 L85 75 L60 80Z" fill="#66cc66"/>
<path d="M215 465 L245 460 L235 480 L220 485Z" fill="#66cc66"/>
<path d="M140 0 L170 0 L150 30 L125 50 L110 40Z" fill="#66cc66"/>
<path d="M75 0 L100 0 L90 12Z" fill="#66cc66"/>
<path d="M195 430 L215 418 L228 430 L222 448 L200 445Z" fill="#ffffff"/>
</svg>
</g>
<g fill="none" stroke="#000" stroke-width="0.8" stroke-linejoin="round">
<path d="M132.7 142.1 L130.4 148.0 L129.5 155.8 L128.2 161.1 L127.1 165.1 L124.8 169.9 L123.4 173.7 L119.5 180.9 L114.4 189.0 L110.7 194.7 L103.8 203.0 L98.5 208.1 L95.9 219.0 L94.6 223.0 L90.7 231.9 L84.1 238.0 L84.5 244.9 L83.2 253.4 L80.8 259.9 L83.2 271.6 L81.8 275.6 L85.5 280.7 L83.6 284.5 L84.8 293.9 L86.5 297.1 L83.9 298.7 L82.2 303.0 L85.0 312.7 L87.4 320.4 L88.4 325.2 L85.0 332.0 L86.2 334.6 L94.4 339.1 L98.3 342.9 L99.7 346.5 L102.2 348.8 L105.6 350.2 L105.1 354.2 L108.1 355.3 L110.2 358.5 L111.7 361.3 L113.9 366.3 L113.4 371.7 L112.8 374.4 L113.4 376.9 L113.4 376.9 L142.8 384.5 L140.6 387.3 L181.3 417.9 L217.2 426.6 L218.6 419.9 L239.7 424.1 L245.4 431.0 L250.2 437.9 L256.7 444.4 L259.5 450.2 L258.9 455.5 L261.7 462.2 L266.5 466.8 L275.3 472.6 L281.3 471.0 L285.1 462.1 L294.0 462.6 L302.0 463.1 L306.2 468.9 L312.7 481.1 L320.1 492.6 L325.1 500.7 L327.4 510.4 L329.8 518.4 L336.8 521.2 L342.4 524.6 L352.4 526.5 L357.5 526.5 L357.5 525.8 L355.5 516.2 L355.1 505.1 L359.4 496.6 L365.0 491.1 L369.1 488.1 L375.3 484.2 L383.4 479.4 L390.8 473.9 L395.4 469.9 L402.6 467.7 L409.9 466.3 L419.4 468.1 L424.8 468.5 L429.2 465.1 L435.6 468.4 L438.5 471.3 L444.1 473.9 L452.2 473.1 L457.3 469.5 L463.1 473.5 L466.5 473.1 L468.2 470.5 L462.5 468.1 L460.1 464.5 L462.9 460.3 L459.9 457.5 L457.1 456.3 L459.7 455.3 L462.1 453.4 L467.2 451.3 L472.5 451.4 L473.7 450.4 L477.9 452.2 L477.7 446.0 L482.5 451.5 L485.7 450.6 L489.5 448.9 L498.5 446.7 L503.9 447.3 L509.7 449.4 L515.4 454.5 L520.0 453.7 L527.2 449.1 L530.5 445.2 L536.1 446.4 L541.2 450.7 L547.3 456.5 L552.8 459.2 L555.0 466.6 L554.7 473.1 L556.9 479.1 L560.7 483.0 L565.6 488.3 L567.9 491.8 L570.8 494.4 L575.6 498.9 L579.4 502.1 L587.7 508.2 L592.1 510.4 L598.9 507.7 L598.6 502.7 L599.9 497.8 L599.1 492.6 L597.4 483.1 L593.4 476.0 L586.8 467.3 L583.2 458.5 L578.9 454.1 L574.0 449.0 L567.3 439.6 L564.1 432.5 L562.3 428.3 L561.2 421.5 L562.2 415.0 L564.6 406.8 L565.8 403.9 L568.9 398.4 L573.3 393.2 L578.0 387.2 L579.7 384.3 L580.8 377.0 L584.6 372.7 L590.8 370.0 L591.7 365.0 L596.7 357.1 L596.7 356.9 L602.0 355.3 L604.7 354.0 L605.7 349.2 L602.0 351.5 L597.9 351.3 L600.9 349.7 L602.0 346.2 L598.8 345.7 L595.2 344.6 L597.7 343.9 L602.0 343.3 L604.1 341.2 L606.8 339.6 L607.9 336.9 L606.3 334.8 L602.0 335.3 L595.2 335.9 L595.6 333.9 L598.8 333.2 L604.1 331.6 L603.1 330.5 L602.0 326.8 L598.9 320.9 L595.2 320.7 L592.7 317.1 L592.5 313.3 L591.4 308.4 L589.9 306.7 L587.9 303.6 L584.2 295.2 L582.5 292.0 L585.7 286.4 L585.9 288.5 L586.6 293.6 L587.0 297.9 L590.0 302.9 L595.1 305.5 L597.2 306.3 L596.5 312.6 L598.2 317.8 L598.8 317.1 L599.7 309.9 L601.1 304.0 L601.3 302.7 L601.2 296.4 L599.1 291.9 L595.8 290.1 L592.8 286.8 L590.0 283.3 L591.6 285.0 L596.4 286.9 L599.8 289.7 L603.0 282.0 L604.1 275.5 L602.8 269.3 L601.4 265.8 L600.2 264.3 L600.1 259.9 L602.1 257.8 L603.9 255.3 L606.7 252.6 L607.9 251.3 L613.0 248.8 L615.2 247.4 L617.5 246.1 L620.5 243.9 L619.0 238.1 L622.6 241.0 L623.5 240.5 L627.4 237.9 L633.5 235.0 L633.2 233.3 L630.0 229.0 L628.5 229.5 L631.4 230.7 L630.4 233.4 L627.5 234.5 L624.8 232.3 L621.9 229.9 L619.5 229.5 L620.0 227.0 L621.4 224.0 L618.1 222.3 L617.9 219.3 L618.2 215.0 L619.7 211.2 L621.6 207.3 L624.0 204.5 L626.6 200.9 L626.7 194.8 L632.3 194.9 L634.4 190.7 L637.4 186.1 L639.6 181.7 L639.6 181.7 L635.9 178.4 L630.5 174.5 L626.3 173.7 L625.6 171.9 L618.4 158.7 L615.9 158.1 L612.1 157.7 L610.6 159.7 L608.8 162.1 L607.5 162.5 L604.6 160.1 L602.8 172.3 L604.1 176.1 L603.2 179.5 L605.1 182.3 L605.0 185.3 L603.9 189.5 L603.8 192.6 L601.8 193.5 L599.3 195.4 L599.8 198.7 L571.6 210.8 L566.6 217.1 L563.7 223.2 L560.7 227.9 L563.3 229.1 L565.1 234.2 L559.7 239.8 L554.2 242.1 L547.2 243.0 L539.4 246.4 L542.5 251.2 L541.5 256.5 L536.7 262.0 L533.8 264.5 L530.3 267.9 L523.6 273.1 L520.3 277.5 L514.5 279.9 L510.4 280.7 L508.0 279.8 L502.0 279.0 L502.8 275.3 L503.8 273.0 L504.1 269.7 L505.4 268.4 L505.7 265.5 L508.3 264.1 L508.1 259.3 L505.8 254.2 L503.2 248.5 L499.7 246.6 L496.7 248.6 L492.3 253.8 L493.2 248.7 L494.4 245.0 L494.6 239.4 L492.5 234.3 L490.7 230.6 L485.8 230.3 L481.1 228.6 L481.4 225.7 L479.0 226.1 L477.0 228.5 L475.0 231.7 L473.0 233.5 L471.5 231.0 L470.8 235.0 L471.0 238.1 L468.6 240.9 L467.3 243.7 L466.5 248.6 L466.1 255.0 L466.8 259.4 L469.7 264.4 L471.6 269.7 L470.2 279.7 L467.8 284.8 L464.3 287.6 L460.9 287.4 L459.4 284.4 L456.4 278.3 L454.5 268.9 L454.0 264.2 L454.8 259.2 L454.6 254.5 L455.5 256.6 L455.7 251.8 L456.1 246.1 L457.7 242.1 L459.7 237.3 L462.1 232.1 L460.9 231.3 L458.1 236.5 L455.7 242.1 L453.3 247.3 L450.5 248.6 L452.5 243.7 L454.1 239.7 L455.7 234.9 L456.9 230.5 L459.7 228.9 L463.7 228.1 L467.8 226.1 L471.8 224.9 L476.6 225.3 L479.8 224.1 L482.2 223.3 L481.5 223.7 L485.2 223.3 L482.2 220.1 L479.7 217.2 L477.6 218.4 L473.6 214.8 L468.9 216.9 L464.4 217.9 L459.2 222.4 L452.1 221.5 L448.8 218.0 L444.2 218.0 L442.0 220.3 L443.6 214.0 L446.7 210.0 L439.9 213.2 L436.8 217.6 L433.4 220.0 L428.2 222.6 L424.6 224.6 L420.2 224.7 L420.6 220.0 L414.5 223.2 L409.6 224.3 L412.9 220.0 L416.2 215.8 L423.8 209.1 L429.9 205.1 L430.2 205.1 L426.3 204.2 L419.7 204.8 L412.9 203.4 L408.5 202.4 L403.1 200.2 L396.5 199.9 L392.6 199.4 L384.9 197.0 L382.4 190.1 L380.7 190.1 L380.8 195.1 L373.5 195.2 L364.9 195.1 L356.3 194.9 L347.7 194.5 L339.1 194.0 L330.6 193.4 L322.0 192.6 L313.4 191.6 L304.9 190.5 L296.4 189.2 L287.9 187.8 L279.5 186.3 L271.0 184.6 L262.6 182.7 L254.3 180.7 L245.9 178.6 L237.7 176.3 L229.4 173.9 L221.2 171.3 L213.0 168.6 L204.9 165.7 L196.9 162.7 L188.9 159.6 L180.9 156.3 L173.0 152.9 L165.2 149.3 L157.4 145.6 L151.6 142.7 L151.6 142.7 L152.1 146.7 L149.9 149.2 L149.1 151.8 L145.2 151.5 L141.5 150.2 L136.4 146.7 L132.7 142.1Z"/>
<path d="M600.8 264.4 L605.6 262.1 L611.6 257.3 L614.4 254.6 L618.8 249.3 L614.2 250.1 L612.3 253.7 L607.6 256.0 L604.0 258.3 L601.9 260.6 L600.2 262.8Z"/>
<path d="M125.1 170.0 L129.7 173.2 L131.0 174.6 L132.8 179.3 L131.4 183.1 L135.7 186.0 L140.0 185.8 L142.5 187.0 L144.9 189.6 L149.3 190.2 L153.8 191.5 L159.8 191.9 L162.5 192.8 L165.6 193.0 L183.4 200.1"/>
<path d="M196.6 162.6 L184.3 194.5 L183.4 200.1"/>
<path d="M183.4 200.1 L183.9 203.2 L184.0 208.2 L179.2 212.9 L173.7 218.0 L172.9 221.3 L174.7 223.4 L172.1 226.8 L163.0 250.4"/>
<path d="M96.2 219.9 L105.4 224.7 L114.6 229.4 L124.0 233.9 L133.4 238.2 L142.9 242.3 L152.5 246.3 L162.1 250.1 L171.8 253.7 L181.6 257.2 L191.4 260.5 L201.3 263.6 L211.3 266.5 L221.2 269.3"/>
<path d="M134.9 238.8 L117.9 277.1 L154.6 352.9"/>
<path d="M154.6 352.9 L156.2 350.3 L157.1 344.5 L158.1 338.4 L162.2 338.6 L166.6 338.6 L170.2 327.5"/>
<path d="M170.2 327.5 L191.9 260.6"/>
<path d="M154.6 352.9 L154.9 357.6 L155.2 361.6 L157.0 364.5 L152.0 367.5 L149.2 372.8 L146.3 374.9 L145.5 381.0 L142.8 384.5"/>
<path d="M170.2 327.5 L181.4 331.0 L192.6 334.4 L203.9 337.5 L215.3 340.4 L226.7 343.1 L238.2 345.6 L249.6 347.9 L261.2 350.0 L272.7 351.9 L284.3 353.5 L296.0 355.0 L307.6 356.3 L319.3 357.3 L331.0 358.2 L342.7 358.8 L354.4 359.3 L366.1 359.5 L377.9 359.5 L389.6 359.3"/>
<path d="M238.0 287.7 L206.6 424.2"/>
<path d="M238.0 287.7 L217.7 282.7 L221.2 269.3"/>
<path d="M221.2 269.3 L231.8 229.8"/>
<path d="M204.5 165.6 L200.0 177.9 L201.6 182.7 L200.5 185.8 L202.0 187.1 L203.0 189.5 L204.9 193.7 L206.4 199.1 L208.0 201.7 L205.6 205.9 L202.8 211.3 L204.4 214.0 L207.2 216.3 L208.2 213.1 L210.2 220.7 L211.3 226.7 L213.2 232.2 L217.1 234.1 L222.8 233.6 L226.1 234.6 L227.7 232.2 L230.1 236.3"/>
<path d="M231.8 229.8 L241.0 232.2 L250.3 234.4 L259.6 236.5 L268.9 238.4 L278.3 240.1 L287.7 241.7 L297.1 243.1"/>
<path d="M304.5 190.4 L289.5 297.3"/>
<path d="M238.0 287.7 L248.3 290.0 L258.5 292.1 L268.8 294.0 L279.2 295.7 L289.5 297.3 L299.9 298.6 L310.4 299.8"/>
<path d="M310.4 299.8 L304.6 356.0"/>
<path d="M308.9 313.7 L320.9 314.8 L333.0 315.7 L345.0 316.4 L357.1 316.8 L369.1 317.0 L381.2 316.9"/>
<path d="M293.7 354.7 L292.8 361.9"/>
<path d="M292.3 361.8 L284.1 427.6 L284.1 427.6 L269.1 425.6 L254.1 423.3 L239.2 420.7 L239.7 424.1"/>
<path d="M292.8 361.9 L304.3 363.2 L315.9 364.3 L327.4 365.2 L325.5 393.3 L329.0 395.9 L334.9 399.2 L342.1 401.0 L348.2 400.5 L349.9 404.3 L359.1 404.5 L361.5 406.8 L366.5 405.4 L369.5 407.6 L376.3 404.6 L382.4 405.3 L387.4 407.5 L392.4 408.2"/>
<path d="M389.8 366.5 L392.4 382.5 L392.4 408.2"/>
<path d="M389.8 366.5 L388.8 329.4 L385.7 325.3 L383.4 323.2 L385.6 320.4 L381.2 316.9 L378.5 313.5 L376.1 308.9 L375.0 303.0 L374.4 299.6 L373.7 296.1 L372.1 289.2 L369.1 282.5 L367.6 278.2 L369.1 274.1 L367.7 268.6 L369.2 268.6 L369.3 244.3 L365.6 240.2 L368.3 235.7 L368.0 230.9 L366.5 223.3 L365.9 214.9 L364.4 209.2 L363.5 201.7 L362.9 195.1"/>
<path d="M293.4 270.0 L304.4 271.4 L315.4 272.6 L326.5 273.6 L337.5 274.4 L348.6 275.0 L353.6 277.2 L359.6 277.1 L363.6 278.8 L366.1 279.5 L369.1 282.5"/>
<path d="M298.9 230.6 L308.7 231.9 L318.6 233.0 L328.6 233.9 L338.5 234.6 L348.4 235.2 L358.4 235.5 L368.3 235.7"/>
<path d="M369.2 268.6 L379.5 268.6 L389.8 268.4 L400.2 268.0 L410.5 267.4 L420.8 266.6"/>
<path d="M376.1 308.9 L386.8 308.7 L397.5 308.4 L408.2 307.9 L418.8 307.1 L422.3 309.7"/>
<path d="M409.6 224.3 L407.4 224.9 L407.9 232.7 L405.6 234.6 L402.6 238.1 L405.2 242.0 L404.3 247.4 L404.2 250.8 L407.3 253.3 L411.3 255.1 L415.4 258.9 L419.8 261.9 L420.8 266.6 L422.1 273.4 L423.4 277.4 L427.7 279.7 L433.2 284.7 L433.2 288.9 L430.5 293.3 L425.5 294.5 L426.4 299.2 L425.2 303.5 L422.3 309.7 L422.8 316.4 L423.8 319.1 L429.1 322.9 L431.8 328.3 L437.4 329.6 L438.0 332.9 L436.7 339.2 L442.7 342.8 L447.1 346.6 L447.6 350.9 L452.1 354.7 L452.2 360.5 L449.0 362.3 L447.5 369.8 L445.7 375.8 L444.4 382.5 L441.9 385.0 L440.0 389.6 L437.5 395.7 L433.8 402.0 L433.0 407.3 L434.6 410.8 L434.1 415.4 L435.5 421.2 L438.3 424.7 L436.3 430.2 L433.0 437.3 L431.1 445.8 L431.1 445.8 L455.3 443.5 L454.5 448.2 L456.7 452.5 L459.0 455.3"/>
<path d="M427.8 279.7 L442.1 278.2 L456.3 276.3"/>
<path d="M389.8 366.5 L402.7 366.0 L415.6 365.3 L428.6 364.4 L441.5 363.2 L439.6 370.6 L447.5 369.8"/>
<path d="M398.3 417.5 L416.2 416.7 L434.1 415.4"/>
<path d="M392.4 408.2 L398.0 409.4 L398.8 432.5 L401.9 438.4 L405.6 444.3 L405.8 448.9 L403.9 455.0 L404.1 461.1 L402.2 466.6"/>
<path d="M466.9 382.0 L469.3 411.5 L469.8 428.0 L473.7 450.4"/>
<path d="M497.5 377.1 L508.5 407.0 L511.8 412.0 L512.3 418.0 L513.8 425.4 L514.3 431.4 L516.1 434.2 L518.8 438.1"/>
<path d="M516.1 434.2 L499.5 437.2 L482.8 439.9 L482.7 442.2 L486.3 445.5 L486.3 450.2"/>
<path d="M518.8 438.1 L553.0 432.5 L555.3 435.4 L555.7 431.6 L555.7 428.7 L561.6 428.2"/>
<path d="M441.9 385.0 L454.1 383.6 L466.3 382.1 L478.5 380.3 L490.7 378.3 L502.7 376.1 L514.8 373.6 L526.8 371.0"/>
<path d="M449.5 362.3 L450.1 362.2 L465.4 360.2 L465.0 357.7 L465.1 358.1 L477.6 356.2 L490.1 354.1 L502.6 351.7 L515.0 349.1 L515.2 349.8 L526.4 347.2 L537.7 344.4 L537.8 344.8 L550.8 341.4 L563.7 337.6 L576.5 333.6 L589.3 329.4 L602.0 324.8"/>
<path d="M537.7 344.4 L538.0 348.8 L534.7 352.6 L529.9 355.3 L526.1 356.9 L522.7 360.7 L519.4 364.4 L515.6 366.7 L514.5 370.0 L512.7 374.2"/>
<path d="M526.8 371.0 L535.5 365.9 L550.1 362.6 L551.9 363.9 L554.3 366.8 L567.4 363.4 L584.6 372.7"/>
<path d="M526.8 371.0 L525.0 375.9 L529.2 377.9 L532.6 379.4 L536.8 383.7 L545.1 389.3 L553.0 394.9 L555.7 400.4 L560.3 405.4 L564.4 406.9"/>
<path d="M515.2 349.8 L520.9 344.8 L524.7 341.7 L528.5 337.1 L531.1 332.2"/>
<path d="M531.1 332.2 L527.0 330.9 L522.2 325.4 L521.3 321.7"/>
<path d="M531.1 332.2 L535.5 336.1 L540.5 333.3 L544.3 332.3 L548.0 329.5 L550.2 326.9 L551.0 319.3 L553.0 313.5 L553.3 310.5 L558.1 305.3 L559.9 306.3 L563.8 299.8 L569.1 297.7 L569.3 294.8"/>
<path d="M591.4 308.4 L583.1 306.8 L580.6 304.7 L578.4 306.9 L577.5 302.7 L578.6 298.6 L573.9 297.2 L569.3 294.8 L566.8 291.4 L562.8 291.3 L560.3 294.3 L557.1 293.8 L555.1 297.4 L551.5 302.2 L549.5 295.1"/>
<path d="M538.7 298.2 L551.0 294.7 L563.2 290.9 L575.3 286.8 L587.3 282.5"/>
<path d="M538.7 298.2 L530.3 267.9"/>
<path d="M535.3 285.8 L535.0 289.4 L535.5 295.0 L535.4 299.4 L531.7 304.8 L529.1 307.6 L527.7 313.1 L525.4 312.2 L524.5 316.1 L522.4 321.4 L521.3 321.7 L518.3 320.2 L515.9 318.4 L509.8 321.3 L502.9 320.7 L498.8 317.3 L495.3 317.5 L495.9 322.0 L489.6 324.4 L487.4 331.0 L485.3 335.3 L479.9 336.9 L474.5 338.6 L468.0 338.6 L463.2 341.7 L463.2 346.8 L459.8 351.6 L452.1 354.7"/>
<path d="M463.2 341.7 L463.3 335.9 L467.2 328.2 L465.5 319.2 L460.5 285.9"/>
<path d="M495.3 317.5 L488.2 282.0"/>
<path d="M467.8 284.8 L488.0 281.1 L488.2 282.0 L501.9 278.6"/>
<path d="M536.7 262.0 L537.7 265.5 L537.7 265.5 L548.5 262.3 L559.2 258.8 L569.9 255.1 L580.5 251.2"/>
<path d="M580.5 251.2 L583.6 252.2 L585.4 255.3 L589.9 257.0 L587.9 263.2 L588.4 267.5 L591.3 270.8 L595.1 272.3 L593.1 277.6 L590.6 280.1 L590.0 283.3"/>
<path d="M587.3 282.5 L588.6 280.2 L590.6 280.1"/>
<path d="M589.9 257.0 L599.6 258.6"/>
<path d="M587.3 282.5 L594.4 299.0 L601.2 296.4"/>
<path d="M602.0 257.6 L600.7 256.6 L602.6 254.3 L597.9 243.5 L596.3 233.8 L592.0 223.0 L590.3 223.7 L583.7 205.8"/>
<path d="M598.1 243.8 L613.9 236.9 L617.9 235.2 L618.6 236.7 L621.2 238.1 L623.2 240.7"/>
<path d="M614.0 237.0 L617.5 246.1"/>
<path d="M596.4 234.0 L614.5 226.0 L618.1 222.3"/>
<path d="M603.9 230.8 L601.3 223.5 L600.0 218.1 L599.0 209.6 L600.2 202.4 L599.8 198.7"/>
<path d="M452.9 241.1 L450.3 238.0 L449.5 232.7 L446.4 230.5 L441.2 230.5 L429.7 227.8 L424.6 224.6"/>
<path d="M617.9 219.3 L613.9 217.0 L612.7 214.3 L601.8 193.5"/>
<path d="M266.5 203.6 L270.1 202.8 L273.3 204.3 L276.5 202.1 L279.7 201.7 L282.3 200.6 L283.1 203.6 L283.6 206.4" stroke-width="0.6"/>
<path d="M305.3 202.8 L309.6 202.1 L313.9 204.3 L316.0 207.5 L319.2 210.7 L322.4 211.7 L326.7 212.2" stroke-width="0.6"/>
<path d="M330.9 224.5 L330.5 230.9 L332.0 236.3 L329.9 241.6 L331.4 245.9 L329.2 250.1 L325.6 249.7" stroke-width="0.6"/>
<path d="M340.1 261.8 L339.5 264.6 L342.7 268.9 L348.0 273.8 L352.3 277.0 L356.5 278.5" stroke-width="0.6"/>
<path d="M157.1 337.1 L160.3 335.6 L163.5 332.9 L165.0 337.1 L167.7 340.3 L169.2 344.2" stroke-width="0.6"/>
<path d="M198.7 335.6 L202.9 335.0 L207.2 334.4 L210.4 330.7 L213.6 326.5" stroke-width="0.6"/>
<path d="M380.0 184.0 L383.2 182.9 L386.4 184.0 L388.5 188.3 L389.6 192.5 L386.4 193.6 L383.2 192.5 L381.1 190.4" stroke-width="0.6"/>
<path d="M164.1 158.4 L165.6 162.7 L166.7 168.0" stroke-width="0.6"/>
<path d="M188.0 161.6 L185.9 165.9 L184.2 170.1" stroke-width="0.6"/>
<g clip-path="url(#frame)" stroke-width="0.6">
<path d="M600.4 323.1 L605.2 329.5 L610.5 334.8 L612.7 340.1 L606.8 347.6 L604.3 353.1"/>
<path d="M113.3 390.0 L114.4 400.7 L116.5 411.3 L115.9 422.0 L120.8 430.5 L126.1 438.0 L130.4 446.5 L128.3 454.0 L124.0 458.3 L126.1 459.3 L122.9 456.1 L114.4 452.9 L118.7 460.4 L124.0 468.9 L130.4 476.4 L134.7 475.3 L133.6 478.5 L138.9 486.0 L143.2 494.5 L144.3 500.9 L141.1 506.3 L137.9 511.6 L142.1 518.0 L145.3 522.3 L147.5 525.0"/>
<path d="M135.7 394.3 L133.6 402.8 L132.1 413.5 L131.5 422.0 L134.7 430.5 L140.0 441.2 L143.2 449.7 L146.4 460.4 L149.6 473.2 L153.9 483.9 L156.0 494.5 L159.2 505.2 L160.3 515.9 L159.2 525.0"/>
<path d="M135.7 394.3 L140.0 398.5 L146.4 403.9 L148.5 408.1 L153.9 411.3 L154.9 417.7 L153.9 428.4 L157.1 441.2 L158.1 447.6 L162.4 458.3 L168.8 466.8 L174.1 471.1 L170.9 477.5 L176.3 483.9 L180.5 490.3 L186.9 498.8 L181.6 506.3 L188.0 511.6 L196.5 520.1 L198.7 525.0"/>
<path d="M141.1 433.7 L144.3 435.9 L145.3 442.3 L142.8 441.2 L141.1 433.7"/>
<path d="M151.7 447.6 L156.0 443.3 L158.1 444.4 L154.9 449.7 L151.7 447.6"/>
<path d="M78.1 417.7 L80.3 417.7 L79.6 422.0 L78.1 421.6 L78.1 417.7"/>
<path d="M112.3 445.5 L115.0 445.0 L114.4 449.7 L112.5 449.3 L112.3 445.5"/>
<path d="M190.1 451.9 L191.8 456.1 L194.8 455.1 L191.8 456.1 L191.2 458.3"/>
<path d="M143.2 490.0 L141.6 501.2 L137.8 510.8 L141.6 518.8 L146.4 520.4 L154.4 531.6 L160.8 541.2 L161.8 549.2"/>
<path d="M157.0 490.0 L156.0 499.6 L160.8 509.2 L158.6 520.4 L162.4 526.8 L168.8 531.6 L170.4 541.2 L173.6 544.4 L168.8 549.2"/>
<path d="M180.0 490.0 L186.4 496.4 L182.6 507.6 L189.6 515.6 L196.0 522.0 L202.4 531.6 L208.8 541.2 L212.6 549.2"/>
<path d="M597.4 506.4 L594.6 513.4 L587.6 519.0 L582.0 521.8 L576.4 523.2"/>
<path d="M612.2 479.8 L617.0 477.0 L624.0 474.2 L626.8 471.4 L633.8 471.4 L639.4 472.8 L638.0 482.6 L636.6 478.4 L632.4 474.2 L624.0 476.2 L618.4 479.8 L614.2 481.2"/>
<path d="M629.6 498.0 L633.8 498.0 L639.4 505.0 L643.6 510.6 L645.0 517.6 L640.8 519.0 L636.6 513.4 L631.0 507.8 L629.0 502.2 L629.6 498.0"/>
<path d="M646.4 486.8 L652.0 488.2 L657.6 491.0 L660.4 496.6 L659.0 493.8 L654.8 490.2"/>
<path d="M666.0 493.8 L671.6 496.6 L675.8 500.8"/>
<path d="M667.4 512.0 L674.4 513.4"/>
<path d="M678.6 507.8 L682.8 512.0 L688.4 516.2"/>
<path d="M696.8 516.2 L701.0 514.8 L702.4 521.8 L699.6 517.6"/>
<path d="M708.0 514.8 L711.4 513.4"/>
<path d="M716.4 514.2 L722.0 513.7"/>
<path d="M730.4 520.4 L736.0 516.2 L741.6 514.8"/>
<path d="M717.8 538.6 L722.0 534.4 L726.2 533.0 L724.8 530.2 L723.4 528.8 L725.4 535.0 L722.0 540.0 L718.6 540.6 L717.8 538.6"/>
<path d="M576.4 548.4 L584.8 545.6 L596.0 542.2 L604.4 540.0 L612.8 540.6 L624.0 542.8 L632.4 542.2 L640.8 541.4 L649.2 544.2 L657.6 547.0 L663.2 549.0"/>
<path d="M596.0 542.2 L600.2 540.0 L610.0 539.2 L618.4 542.2 L629.6 544.2 L638.0 542.8 L646.4 542.2 L652.0 545.6"/>
<path d="M128.7 128.0 L129.7 130.7 L132.9 133.9 L136.1 133.3 L137.2 132.3"/>
<path d="M131.9 134.4 L132.9 138.7 L136.7 143.5 L140.9 146.7 L144.1 147.2"/>
<path d="M138.8 128.0 L142.0 132.8 L144.1 137.1 L145.2 141.3 L146.8 145.1 L148.9 146.7"/>
<path d="M143.1 128.5 L146.3 128.0 L148.4 130.1 L150.5 132.8 L152.7 133.9 L153.7 137.1 L152.1 138.1 L149.5 137.6"/>
<path d="M146.0 150.0 L148.0 148.0 L150.0 146.0 L151.0 149.0 L149.0 152.0 L147.0 155.0 L144.0 158.0 L141.0 160.0 L139.0 162.0 L141.0 163.0 L144.0 161.0 L147.0 158.0 L149.0 155.0"/>
<path d="M430.2 205.1 L432.8 199.5 L436.4 200.3 L438.3 194.8 L440.5 191.2 L446.7 192.3 L454.5 191.7 L459.8 196.8 L462.3 201.0 L471.0 199.4 L473.1 205.0 L474.8 211.4 L477.3 212.3 L477.3 217.0 L479.7 217.2"/>
<path d="M433.7 206.7 L439.3 201.9 L436.1 205.0 L433.7 206.7"/>
<path d="M479.7 217.2 L482.5 219.4 L487.3 219.7 L493.6 218.3 L502.0 217.6 L506.9 217.7 L513.8 218.6 L521.8 222.7 L525.7 229.3 L525.0 233.7 L517.2 234.5 L508.0 227.8 L513.1 234.2 L510.9 243.1 L512.4 247.7 L513.2 253.8 L508.3 259.2"/>
<path d="M491.8 222.8 L498.0 220.7 L503.4 219.3 L505.0 223.7 L501.1 225.4 L495.1 224.8 L491.8 222.8"/>
<path d="M504.3 272.9 L506.6 273.7 L510.8 273.5 L515.7 268.0 L520.4 261.8 L525.1 259.8 L532.8 259.1 L533.3 255.4 L538.8 253.0 L542.3 251.3"/>
<path d="M539.4 247.0 L532.3 248.5 L534.7 242.9 L538.7 238.8 L544.8 235.5 L551.5 234.0 L556.1 232.4 L559.4 226.9"/>
<path d="M504.1 269.7 L508.6 269.0 L509.6 266.6 L508.3 264.1"/>
<path d="M591.8 176.8 L592.3 175.8 L596.3 165.1 L599.9 157.0 L604.1 145.6 L609.2 137.0 L615.2 129.5 L625.8 122.2 L634.8 123.6 L636.5 126.4 L631.0 135.9 L623.0 141.4 L631.7 143.2 L638.4 136.1 L642.0 146.3 L650.3 153.7 L657.2 152.6 L666.9 148.7 L678.1 144.4 L673.8 131.9 L675.6 124.1 L687.5 131.9 L686.5 139.3 L684.2 145.8 L669.3 167.2 L660.4 191.0 L653.3 189.6 L651.2 178.2 L654.0 167.1 L657.8 162.5 L654.6 159.0 L652.7 157.7 L651.3 162.5 L644.3 172.1 L639.6 181.7"/>
<path d="M592.1 175.2 L594.7 165.9 L596.0 161.5 L596.7 153.9 L598.7 146.2 L602.4 135.4 L608.3 117.3"/>
<path d="M648.2 148.7 L648.2 141.7 L657.8 145.0 L667.8 138.4 L667.3 146.0 L660.4 149.0 L654.3 148.1 L648.2 148.7"/>
<path d="M477.7 128.5 L482.4 127.5 L489.9 128.5 L490.9 130.7 L484.5 131.7 L480.3 132.8 L482.4 137.1 L486.7 141.3 L493.1 145.6 L497.3 148.8 L502.7 147.7 L508.0 152.0"/>
<path d="M501.6 129.6 L505.9 128.5 L508.0 134.9 L506.9 140.3 L509.1 145.6"/>
<path d="M495.2 152.0 L497.3 147.7"/>
<path d="M478.6 192.5 L482.4 190.0"/>
<path d="M502.7 184.0 L503.3 187.2"/>
<path d="M509.1 178.0 L512.3 177.2 L516.5 179.7 L514.4 180.8 L510.6 179.7 L509.1 178.0"/>
<path d="M502.7 202.1 L503.7 206.4"/>
<path d="M515.5 200.0 L516.5 204.3"/>
<path d="M518.7 193.6 L521.9 197.9 L525.1 201.1 L527.2 200.0 L524.0 198.5"/>
<path d="M534.7 171.2 L535.3 175.5"/>
<path d="M533.6 186.1 L540.0 188.3"/>
<path d="M516.5 210.7 L521.9 209.2 L525.1 210.7 L520.8 212.2 L516.5 212.2 L516.5 210.7"/>
<path d="M542.1 171.2 L548.5 170.1 L554.9 165.9 L560.3 168.0 L552.8 169.1 L550.7 172.3"/>
<path d="M541.1 184.0 L546.4 186.1 L547.5 190.4"/>
<path d="M552.8 190.4 L554.9 193.6"/>
<path d="M573.1 157.3 L577.3 156.3 L578.4 158.4 L575.2 159.5 L573.1 157.3"/>
<path d="M584.8 155.2 L596.5 154.1"/>
</g>
</g>
<g font-size="32.6" text-anchor="start" stroke="#fff" stroke-width="0.7" paint-order="fill stroke">
<text y="37"><tspan x="77" textLength="139" lengthAdjust="spacing">Departure</tspan> <tspan x="234" textLength="66" lengthAdjust="spacing">from</tspan> <tspan x="318" textLength="101" lengthAdjust="spacing">Normal</tspan> <tspan x="436.5" textLength="178" lengthAdjust="spacing">Temperature</tspan> <tspan x="629.5" textLength="41" lengthAdjust="spacing">(F)</tspan></text>
<text y="79.7"><tspan x="185" textLength="162" lengthAdjust="spacing">11/1/2025</tspan> <tspan x="369" textLength="11" lengthAdjust="spacing">-</tspan> <tspan x="406" textLength="161" lengthAdjust="spacing">1/31/2026</tspan></text>
</g>
<g stroke="#000" stroke-width="0.8">
<path d="M0.5 605.3 L62.5 597 L62.5 613.5Z" fill="#ff00ff"/>
<rect x="62.5" y="597" width="62.2" height="16.5" fill="#9900bb"/>
<rect x="124.7" y="597" width="62.2" height="16.5" fill="#7f00dd"/>
<rect x="186.8" y="597" width="62.1" height="16.5" fill="#00a0ff"/>
<rect x="248.9" y="597" width="62.2" height="16.5" fill="#00aa00"/>
<rect x="311.1" y="597" width="62.1" height="16.5" fill="#66cc66"/>
<rect x="373.2" y="597" width="62.1" height="16.5" fill="#eaea00"/>
<rect x="435.4" y="597" width="62.2" height="16.5" fill="#e8aa33"/>
<rect x="497.6" y="597" width="62.2" height="16.5" fill="#f0822d"/>
<rect x="559.7" y="597" width="62.1" height="16.5" fill="#ff0000"/>
<rect x="621.9" y="597" width="62.1" height="16.5" fill="#c00000"/>
<path d="M684.0 597 L744.5 605.3 L684.0 613.5Z" fill="#800000"/>
</g>
<g font-size="15" text-anchor="middle" letter-spacing="1.3" stroke="#fff" stroke-width="0.4" paint-order="fill stroke">
<text x="62.5" y="629">−10</text>
<text x="124.7" y="629">−8</text>
<text x="186.8" y="629">−6</text>
<text x="248.9" y="629">−4</text>
<text x="311.1" y="629">−2</text>
<text x="373.2" y="629">0</text>
<text x="435.4" y="629">2</text>
<text x="497.6" y="629">4</text>
<text x="559.7" y="629">6</text>
<text x="621.9" y="629">8</text>
<text x="684.0" y="629">10</text>
</g>
</svg></body></html>
